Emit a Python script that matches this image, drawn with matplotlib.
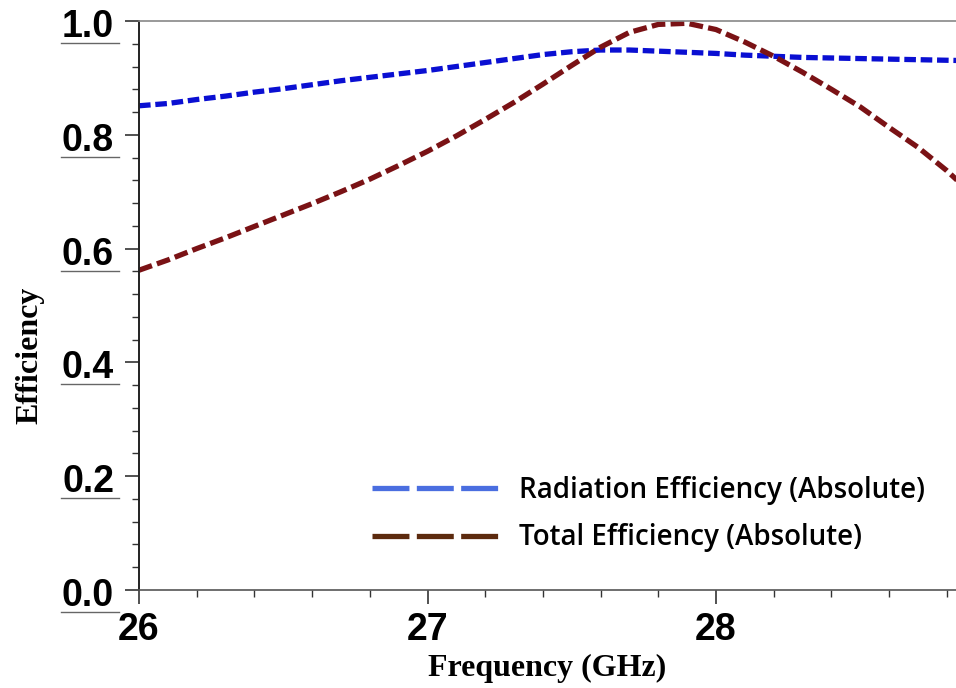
import matplotlib
matplotlib.use('Agg')
import matplotlib.pyplot as plt
import matplotlib.transforms as mtransforms
from matplotlib.lines import Line2D
from matplotlib.ticker import MultipleLocator

# frequency sweep (GHz) and efficiencies
freq = [26.0, 26.1, 26.2, 26.3, 26.4, 26.5, 26.6, 26.7, 26.8, 26.9,
        27.0, 27.1, 27.2, 27.3, 27.4, 27.5, 27.6, 27.7, 27.8, 27.9,
        28.0, 28.1, 28.2, 28.3, 28.4, 28.5, 28.6, 28.7, 28.8, 28.9]
rad_eff = [0.851, 0.855, 0.862, 0.868, 0.875, 0.881, 0.888, 0.895, 0.901, 0.907,
           0.913, 0.920, 0.927, 0.934, 0.941, 0.946, 0.949, 0.949, 0.947, 0.945,
           0.943, 0.940, 0.938, 0.936, 0.935, 0.934, 0.933, 0.932, 0.931, 0.930]
tot_eff = [0.562, 0.580, 0.600, 0.619, 0.639, 0.659, 0.679, 0.700, 0.722, 0.746,
           0.771, 0.798, 0.827, 0.857, 0.889, 0.922, 0.954, 0.980, 0.994, 0.996,
           0.985, 0.963, 0.938, 0.910, 0.880, 0.849, 0.813, 0.778, 0.737, 0.690]

xticks = [26, 27, 28]
yticks = [0.0, 0.2, 0.4, 0.6, 0.8, 1.0]
labels = ['Radiation Efficiency (Absolute)', 'Total Efficiency (Absolute)']

fig = plt.figure(figsize=(9.56, 6.88), dpi=100)
ax = fig.add_axes([139/956, 1 - 590/688, 1 - 139/956, (590 - 21)/688])

ax.plot(freq, rad_eff, color='#0a0fd2', lw=3.8, dashes=(2.2, 0.9), dash_capstyle='butt')
ax.plot(freq, tot_eff, color='#7a1215', lw=3.8, dashes=(2.6, 1.0), dash_capstyle='butt')

ax.set_xlim(26, 26 + (956 - 139)/288.5)
ax.set_ylim(0, 1.0)

ax.set_xticks(xticks)
ax.set_yticks(yticks)
ax.xaxis.set_minor_locator(MultipleLocator(0.2))
ax.yaxis.set_minor_locator(MultipleLocator(0.04))
ax.set_xticklabels([str(v) for v in xticks])
ax.set_yticklabels(['%.1f' % v for v in yticks])

tick_font = dict(family='Liberation Sans', weight='bold', size=27)
for lab in ax.get_xticklabels() + ax.get_yticklabels():
    lab.set_fontproperties(matplotlib.font_manager.FontProperties(**tick_font))

ax.tick_params(axis='both', which='major', direction='out', length=10, width=1.2, color='#333333')
ax.tick_params(axis='both', which='minor', direction='out', length=5, width=1.0, color='#333333')
ax.tick_params(axis='x', pad=6)
ax.tick_params(axis='y', pad=8)

# nudge y tick labels down a little
shift = mtransforms.ScaledTranslation(0, -2/100, fig.dpi_scale_trans)
for lab in ax.get_yticklabels():
    lab.set_transform(lab.get_transform() + shift)

# thin grey underline below each y tick label
under = mtransforms.blended_transform_factory(fig.transFigure, ax.transData)
under = mtransforms.offset_copy(under, fig=fig, y=-22, units='dots')
for v in yticks:
    fig.add_artist(Line2D([61/956, 119/956], [v, v], transform=under,
                          color='#666666', lw=1.0))

ax.spines['right'].set_visible(False)
ax.spines['left'].set_color('#222222')
ax.spines['left'].set_linewidth(1.4)
ax.spines['bottom'].set_color('#555555')
ax.spines['bottom'].set_linewidth(1.2)
ax.spines['top'].set_color('#888888')
ax.spines['top'].set_linewidth(1.2)

ax.set_xlabel('Frequency (GHz)', family='Liberation Serif', weight='bold', size=23, labelpad=4)
ax.set_ylabel('Efficiency', family='Liberation Serif', weight='bold', size=23)
ax.yaxis.set_label_coords(-(139 - 44)/817, 0.413)

handles = [Line2D([], [], color='#4a6ee0', lw=3.8, dashes=(7.0, 1.4), dash_capstyle='butt'),
           Line2D([], [], color='#5c2a0e', lw=3.8, dashes=(7.0, 1.4), dash_capstyle='butt')]
leg = ax.legend(handles, labels, loc='center left', frameon=False,
                bbox_to_anchor=(347/956, 1 - 514/688), bbox_transform=fig.transFigure,
                prop=dict(family='Open Sans', weight='semibold', size=20),
                handlelength=4.6, handletextpad=0.7, labelspacing=0.68)

fig.savefig('out.png', dpi=100)
